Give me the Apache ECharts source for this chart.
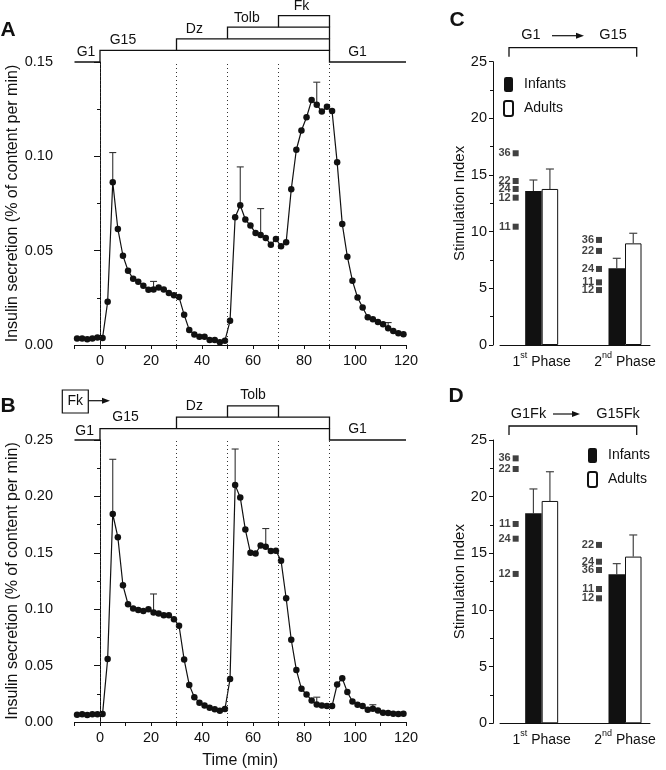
<!DOCTYPE html>
<html><head><meta charset="utf-8">
<script src="https://cdn.jsdelivr.net/npm/echarts@6/dist/echarts.min.js"></script>
<style>html,body{margin:0;padding:0;background:#fff}#c{width:666px;height:770px}</style>
</head><body><div id="c"></div>
<script>
const FONT = "'Liberation Sans', Arial, sans-serif";
const INK = '#111';

// ---- Panel A / B : time course (min) ----
const times = [-9,-7,-5,-3,-1,1,3,5,7,9,11,13,15,17,19,21,23,25,27,29,31,33,35,37,39,41,43,45,47,49,51,53,55,57,59,61,63,65,67,69,71,73,75,77,79,81,83,85,87,89,91,93,95,97,99,101,103,105,107,109,111,113,115,117,119];
const secretionA = [0.0035,0.0035,0.0030,0.0035,0.0040,0.0037,0.0229,0.0863,0.0615,0.0473,0.0394,0.0351,0.0335,0.0314,0.0293,0.0294,0.0305,0.0294,0.0275,0.0264,0.0254,0.0160,0.0080,0.0055,0.0044,0.0044,0.0027,0.0027,0.0014,0.0023,0.0128,0.0677,0.0741,0.0665,0.0633,0.0594,0.0583,0.0567,0.0532,0.0562,0.0523,0.0544,0.0825,0.1035,0.1137,0.1207,0.1298,0.1274,0.1237,0.1263,0.1240,0.0968,0.0642,0.0468,0.0340,0.0252,0.0199,0.0147,0.0137,0.0122,0.0110,0.0089,0.0074,0.0062,0.0057];
const secretionB = [0.0065,0.0068,0.0062,0.0068,0.0068,0.0070,0.0559,0.1844,0.1638,0.1212,0.1044,0.1006,0.0994,0.0985,0.1000,0.0970,0.0962,0.0947,0.0947,0.0912,0.0853,0.0553,0.0329,0.0220,0.0171,0.0147,0.0126,0.0112,0.0100,0.0115,0.0382,0.2100,0.1991,0.1706,0.1500,0.1494,0.1565,0.1553,0.1515,0.1518,0.1430,0.1097,0.0729,0.0462,0.0294,0.0244,0.0191,0.0156,0.0147,0.0141,0.0141,0.0332,0.0388,0.0265,0.0182,0.0153,0.0141,0.0109,0.0118,0.0103,0.0082,0.0079,0.0074,0.0071,0.0074];
// error bars: [time, upper value]
const errTopA = [[5,0.102],[21,0.0337],[55,0.0944],[63,0.0723],[85,0.1393],[113,0.0119]];
const errTopB = [[5,0.2329],[21,0.1135],[53,0.242],[65,0.1715],[85,0.022],[107,0.0153]];
const stimulusTimes = [0,30,50,70,90];
// protocol diagrams: polylines of [time, level]
const protoLinesA = [
  [[-10,0],[0,0],[0,1],[90,1],[90,0],[120,0]],
  [[30,1],[30,2],[90,2],[90,1]],
  [[50,2],[50,3],[90,3],[90,2]],
  [[70,3],[70,4],[90,4],[90,3]]
];
const protoLabelsA = [['G1',-5.5,0.86],['G15',9,1.9],['Dz',37,2.85],['Tolb',57.6,3.8],['Fk',79,4.8],['G1',101,0.86]];
const protoLinesB = [
  [[-10,0],[0,0],[0,1],[90,1],[90,0],[120,0]],
  [[30,1],[30,2],[90,2],[90,1]],
  [[50,2],[50,3],[70,3],[70,2]]
];
const protoLabelsB = [['G1',-6,0.82],['G15',10,2.0],['Dz',37,3.0],['Tolb',60,3.95],['G1',101,0.96]];

// ---- Panel C / D : stimulation index ----
const phases = ['1st Phase','2nd Phase'];
const phaseSlot = [2,7];
const slotCount = 9;
const infantsC = [13.59, 6.77], infantsErrC = [14.56, 7.65];
const adultsC = [13.77, 8.97], adultsErrC = [15.53, 9.86];
const indivC1 = [['36',16.92],['22',14.47],['24',13.77],['12',13.0],['11',10.44]];
const indivC2 = [['36',9.27],['22',8.30],['24',6.71],['11',5.53],['12',4.85]];
const infantsD = [18.53, 13.15], infantsErrD = [20.68, 14.09];
const adultsD = [19.62, 14.71], adultsErrD = [22.2, 16.62];
const indivD1 = [['36',23.38],['22',22.44],['11',17.59],['24',16.29],['12',13.18]];
const indivD2 = [['22',15.74],['24',14.26],['36',13.53],['11',11.85],['12',11.03]];

// ---------------------------------------------------------
const cats = Array.from({length: slotCount}, (_, i) => { const k = phaseSlot.indexOf(i); return k >= 0 ? phases[k] : ''; });
const slotData = vals => cats.map((c, i) => { const k = phaseSlot.indexOf(i); return k >= 0 ? vals[k] : '-'; });
const pairs = (xs, ys) => xs.map((x, i) => [x, ys[i]]);

const chart = echarts.init(document.getElementById('c'));

function timeXAxis(grid, withName) {
  return {
    type: 'value', gridIndex: grid, min: -10, max: 120, interval: 10,
    axisLine: {show: true, onZero: false, lineStyle: {color: INK, width: 1}},
    axisTick: {show: true, length: 4, lineStyle: {color: INK}},
    axisLabel: {formatter: v => (v % 20 === 0 ? String(v) : ''), color: INK, fontSize: 14.5, fontFamily: FONT, margin: 8},
    splitLine: {show: false},
    name: withName ? 'Time (min)' : '', nameLocation: 'middle', nameGap: 31,
    nameTextStyle: {fontSize: 16, fontFamily: FONT, color: INK}
  };
}
function secYAxis(grid, max) {
  return {
    type: 'value', gridIndex: grid, min: 0, max: max, interval: 0.05, offset: 13.5,
    axisLine: {show: true, lineStyle: {color: INK, width: 1}},
    axisTick: {show: true, length: 6, lineStyle: {color: INK}},
    minorTick: {show: true, splitNumber: 2, length: 3, lineStyle: {color: INK}},
    axisLabel: {formatter: v => v.toFixed(2), color: INK, fontSize: 14.5, fontFamily: FONT, margin: 8},
    splitLine: {show: false},
    name: 'Insulin secretion (% of content per min)', nameLocation: 'middle', nameGap: 38,
    nameTextStyle: {fontSize: 16, fontFamily: FONT, color: INK}
  };
}
function catXAxis(grid) {
  return {
    type: 'category', gridIndex: grid, data: cats, boundaryGap: true,
    axisLine: {show: true, lineStyle: {color: INK, width: 1}},
    axisTick: {show: false},
    axisLabel: {
      interval: 0, margin: 6, color: INK, fontFamily: FONT,
      formatter: v => { if (!v) return ''; const m = v.match(/^(\d)(st|nd|rd|th) (.*)$/); return '{n|' + m[1] + '}{s|' + m[2] + '}{n| ' + m[3] + '}'; },
      rich: {n: {fontSize: 14, fontFamily: FONT, color: INK, lineHeight: 18, verticalAlign: 'bottom'},
             s: {fontSize: 9, fontFamily: FONT, color: INK, lineHeight: 10, verticalAlign: 'top'}}
    },
    splitLine: {show: false}
  };
}
function siYAxis(grid) {
  return {
    type: 'value', gridIndex: grid, min: 0, max: 25, interval: 5, offset: 7,
    axisLine: {show: true, lineStyle: {color: INK, width: 1}},
    axisTick: {show: true, length: 4, lineStyle: {color: INK}},
    minorTick: {show: true, splitNumber: 2, length: 3, lineStyle: {color: INK}},
    axisLabel: {color: INK, fontSize: 14.5, fontFamily: FONT, margin: 6},
    splitLine: {show: false},
    name: 'Stimulation Index', nameLocation: 'middle', nameGap: 14,
    nameTextStyle: {fontSize: 15, fontFamily: FONT, color: INK}
  };
}

function timeLine(ax, ys) {
  return {
    type: 'line', xAxisIndex: ax, yAxisIndex: ax, data: pairs(times, ys),
    symbol: 'circle', symbolSize: 6.5, itemStyle: {color: INK}, lineStyle: {color: INK, width: 1.2},
    z: 4, animation: false,
    markLine: {silent: true, symbol: ['none','none'], label: {show: false},
      lineStyle: {color: '#333', width: 1, type: [1, 3]},
      data: stimulusTimes.map(t => ({xAxis: t}))}
  };
}
function timeErr(ax, errs, ys) {
  return {
    type: 'custom', xAxisIndex: ax, yAxisIndex: ax, z: 3, silent: true,
    data: errs.map(e => [e[0], ys[times.indexOf(e[0])], e[1]]),
    renderItem(params, api) {
      const p0 = api.coord([api.value(0), api.value(1)]);
      const p1 = api.coord([api.value(0), api.value(2)]);
      return {type: 'group', children: [
        {type: 'line', shape: {x1: p0[0], y1: p0[1], x2: p1[0], y2: p1[1]}, style: {stroke: '#333', lineWidth: 1.1}},
        {type: 'line', shape: {x1: p1[0]-3.5, y1: p1[1], x2: p1[0]+3.5, y2: p1[1]}, style: {stroke: '#333', lineWidth: 1.1}}
      ]};
    }
  };
}
function protocol(ax, lines, labels, yTop, step) {
  return {
    type: 'custom', xAxisIndex: ax, yAxisIndex: ax, clip: false, silent: true, z: 5,
    data: [[0, yTop]],
    renderItem(params, api) {
      const top = api.coord([0, yTop])[1];
      const X = x => api.coord([x, yTop])[0];
      const Y = lv => top - lv * step;
      const children = lines.map(l => ({type: 'polyline', shape: {points: l.map(p => [X(p[0]), Y(p[1])])},
        style: {stroke: INK, fill: 'none', lineWidth: 1.3}}));
      labels.forEach(([t, x, lv]) => children.push({type: 'text', style: {text: t, x: X(x), y: Y(lv),
        fill: INK, font: '14px ' + FONT, align: 'center', verticalAlign: 'middle', textAlign: 'center', textVerticalAlign: 'middle'}}));
      return {type: 'group', children};
    }
  };
}
const BARW = 16.5;
function bars(ax, name, vals, style) {
  return {type: 'bar', name, xAxisIndex: ax, yAxisIndex: ax, data: slotData(vals), barWidth: BARW, barGap: '0%',
    itemStyle: style, z: 2, silent: true};
}
function barErr(ax, infV, infE, adV, adE) {
  const d = [];
  phaseSlot.forEach((s, k) => { d.push([s, infV[k], infE[k], -1]); d.push([s, adV[k], adE[k], 1]); });
  return {
    type: 'custom', xAxisIndex: ax, yAxisIndex: ax, z: 1, silent: true, data: d,
    renderItem(params, api) {
      const p0 = api.coord([api.value(0), api.value(1)]);
      const p1 = api.coord([api.value(0), api.value(2)]);
      const x = p0[0] + api.value(3) * BARW / 2;
      return {type: 'group', children: [
        {type: 'line', shape: {x1: x, y1: p0[1], x2: x, y2: p1[1]}, style: {stroke: '#444', lineWidth: 1.2}},
        {type: 'line', shape: {x1: x-4, y1: p1[1], x2: x+4, y2: p1[1]}, style: {stroke: '#444', lineWidth: 1.2}}
      ]};
    }
  };
}
function indiv(ax, list1, list2) {
  const d = [];
  list1.forEach(([n, v]) => d.push({name: n, value: [phaseSlot[0], v]}));
  list2.forEach(([n, v]) => d.push({name: n, value: [phaseSlot[1], v]}));
  return {type: 'scatter', xAxisIndex: ax, yAxisIndex: ax, symbol: 'rect', symbolSize: 6, symbolOffset: [-26, 0],
    itemStyle: {color: INK}, silent: true, z: 3, data: d,
    label: {show: true, position: 'left', distance: 2, formatter: p => p.name, fontSize: 11, fontWeight: 'bold', fontFamily: FONT, color: INK}};
}
const infantStyle = {color: INK};
const adultStyle = {color: '#fff', borderColor: INK, borderWidth: 1};

function legend(left, top) {
  return {left, top, orient: 'vertical', padding: 0, itemWidth: 9, itemHeight: 15, itemGap: 8,
    data: ['Infants', 'Adults'], selectedMode: false,
    textStyle: {fontSize: 14, fontFamily: FONT, color: INK, padding: [0, 0, 0, 6]}};
}

function txt(t, x, y, font) {
  return {type: 'text', x, y, style: {text: t, font, fill: INK, align: 'center', verticalAlign: 'middle', textAlign: 'center', textVerticalAlign: 'middle'}};
}
function bracket(y, xl, xr, drop, left, right, xt1, xt2, ax1, ax2) {
  const f = '14.5px ' + FONT;
  return [
    {type: 'polyline', shape: {points: [[xl, y + drop], [xl, y], [xr, y], [xr, y + drop]]}, style: {stroke: INK, fill: 'none', lineWidth: 1.3}},
    txt(left, xt1, y - 12.5, f), txt(right, xt2, y - 12.5, f),
    {type: 'line', shape: {x1: ax1, y1: y - 12, x2: ax2 - 6, y2: y - 12}, style: {stroke: INK, lineWidth: 1.2}},
    {type: 'polygon', shape: {points: [[ax2, y - 12], [ax2 - 8, y - 15], [ax2 - 8, y - 9]]}, style: {fill: INK}}
  ];
}

const option = {
  animation: false,
  backgroundColor: '#fff',
  textStyle: {fontFamily: FONT},
  grid: [
    {left: 74.5, top: 62, width: 331.5, height: 283},
    {left: 74.5, top: 440, width: 331.5, height: 283.3},
    {left: 500, top: 61.7, width: 150, height: 283.3},
    {left: 500, top: 440, width: 150, height: 283.3}
  ],
  xAxis: [timeXAxis(0, false), timeXAxis(1, true), catXAxis(2), catXAxis(3)],
  yAxis: [secYAxis(0, 0.15), secYAxis(1, 0.25), siYAxis(2), siYAxis(3)],
  legend: [legend(503, 77), legend(587, 448)],
  series: [
    timeLine(0, secretionA), timeErr(0, errTopA, secretionA), protocol(0, protoLinesA, protoLabelsA, 0.15, 11.6),
    timeLine(1, secretionB), timeErr(1, errTopB, secretionB), protocol(1, protoLinesB, protoLabelsB, 0.25, 11.4),
    bars(2, 'Infants', infantsC, infantStyle), bars(2, 'Adults', adultsC, adultStyle),
    barErr(2, infantsC, infantsErrC, adultsC, adultsErrC), indiv(2, indivC1, indivC2),
    bars(3, 'Infants', infantsD, infantStyle), bars(3, 'Adults', adultsD, adultStyle),
    barErr(3, infantsD, infantsErrD, adultsD, adultsErrD), indiv(3, indivD1, indivD2)
  ],
  graphic: [
    txt('A', 8, 30, 'bold 21px ' + FONT),
    txt('B', 8, 406.5, 'bold 21px ' + FONT),
    txt('C', 457, 20, 'bold 21px ' + FONT),
    txt('D', 456, 396, 'bold 21px ' + FONT),
    ...bracket(47.7, 509, 636.7, 9, 'G1', 'G15', 531, 613, 552, 584),
    ...bracket(426, 509, 636.7, 9, 'G1Fk', 'G15Fk', 528.5, 618, 553, 580),
    {type: 'rect', shape: {x: 62.3, y: 390, width: 26, height: 23}, style: {stroke: INK, fill: '#fff', lineWidth: 1.2}},
    txt('Fk', 75.3, 401.5, '14px ' + FONT),
    {type: 'line', shape: {x1: 88.3, y1: 400.7, x2: 104, y2: 400.7}, style: {stroke: INK, lineWidth: 1.2}},
    {type: 'polygon', shape: {points: [[110, 400.7], [102, 397.7], [102, 403.7]]}, style: {fill: INK}}
  ]
};
chart.setOption(option);
</script>
</body></html>
